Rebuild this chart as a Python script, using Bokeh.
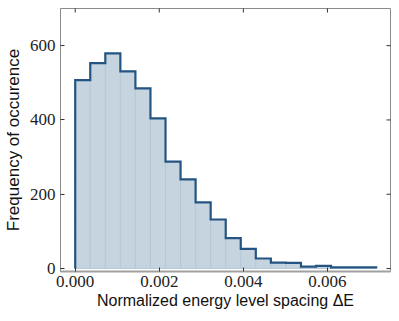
import math
from bokeh.plotting import figure
from bokeh.models import Range1d, FixedTicker, ColumnDataSource
from bokeh.embed import file_html
from bokeh.resources import INLINE

# ---- data ----
bin_edges = [0.0, 0.000358, 0.000716, 0.001074, 0.001432, 0.00179, 0.002148,
             0.002506, 0.002864, 0.003222, 0.00358, 0.003938, 0.004296,
             0.004654, 0.005012, 0.00537, 0.005728, 0.006086, 0.006444,
             0.006802, 0.00716]
counts = [507, 553, 579, 531, 485, 404, 288, 240, 178, 132,
          82, 53, 27, 16, 15, 5, 7, 3, 3, 3]
x_ticks = [0.0, 0.002, 0.004, 0.006]
x_tick_labels = ["0.000", "0.002", "0.004", "0.006"]
y_ticks = [0, 200, 400, 600]
x_label = "Normalized energy level spacing \u0394E"
y_label = "Frequency of occurence"

X_MIN, X_MAX = -0.00035, 0.0075
Y_MIN, Y_MAX = -8, 700

FILL = "#c5d4df"
EDGE = "#b6c8d6"
LINE = "#245582"
TICK = "#333333"
SERIF = "Liberation Serif"
SANS = "Liberation Sans"

p = figure(width=399, height=321, output_backend="svg", toolbar_location=None,
           x_range=Range1d(X_MIN, X_MAX), y_range=Range1d(Y_MIN, Y_MAX),
           min_border_left=59, min_border_right=9, min_border_top=8,
           min_border_bottom=50)
p.grid.visible = False
p.background_fill_color = "white"
p.border_fill_color = "white"
p.outline_line_color = "#8a8a8a"
p.outline_line_width = 1

src = ColumnDataSource(dict(left=bin_edges[:-1], right=bin_edges[1:],
                            top=counts, bottom=[0] * len(counts)))
p.quad(left="left", right="right", top="top", bottom="bottom", source=src,
       fill_color=FILL, line_color=EDGE, line_width=1)

# step outline built from the histogram data
sx, sy = [bin_edges[0]], [0]
for i, c in enumerate(counts):
    sx += [bin_edges[i], bin_edges[i + 1]]
    sy += [c, c]
sx.append(bin_edges[-1])
sy.append(0)
p.line(sx, sy, line_color=LINE, line_width=2.2, line_join="miter")

# inward ticks on the top and right edges (half of each dash is clipped)
p.scatter(x=x_ticks, y=[Y_MAX] * len(x_ticks), marker="dash", size=8,
          angle=math.pi / 2, line_color=TICK, line_width=1)
p.scatter(x=[X_MAX] * len(y_ticks), y=y_ticks, marker="dash", size=8,
          line_color=TICK, line_width=1)

for ax in (p.xaxis[0], p.yaxis[0]):
    ax.axis_line_color = None
    ax.major_tick_in = 4
    ax.major_tick_out = 0
    ax.major_tick_line_color = TICK
    ax.major_tick_line_width = 1
    ax.minor_tick_line_color = None
    ax.major_label_text_font = SERIF
    ax.major_label_text_color = "#222222"
    ax.major_label_text_font_size = "17px"
    ax.axis_label_text_font = SANS
    ax.axis_label_text_font_style = "normal"
    ax.axis_label_text_color = "#111111"

xa = p.xaxis[0]
ya = p.yaxis[0]
xa.ticker = FixedTicker(ticks=x_ticks)
xa.major_label_overrides = {t: l for t, l in zip(x_ticks, x_tick_labels)}
ya.ticker = FixedTicker(ticks=y_ticks)
xa.axis_line_color = "#a0a0a0"
xa.axis_line_width = 2
xa.major_label_standoff = 4
xa.axis_label = x_label
xa.axis_label_text_font_size = "16px"
xa.axis_label_standoff = 2
ya.major_label_standoff = 5
ya.axis_label = y_label
ya.axis_label_text_font_size = "17px"
ya.axis_label_standoff = 4

open("out.html", "w").write(file_html(p, INLINE))
